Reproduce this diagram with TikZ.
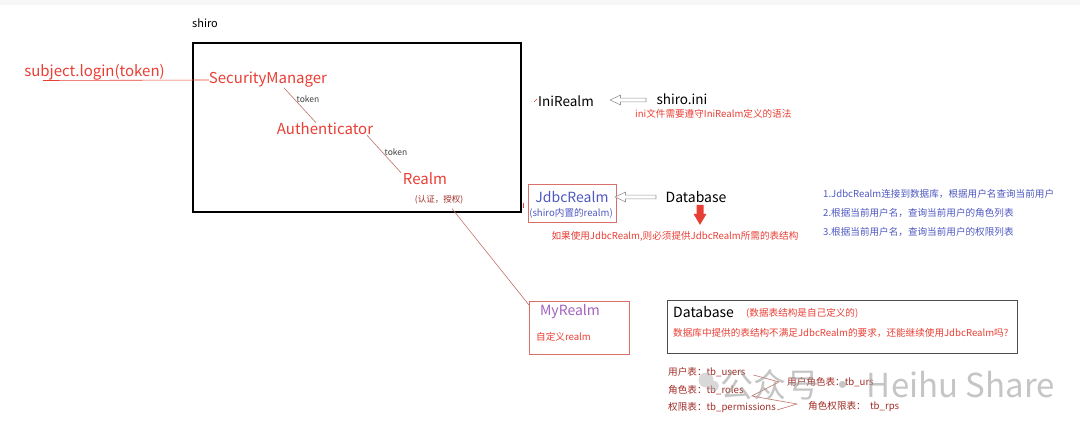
\documentclass[tikz,border=0pt]{standalone}
\usepackage{fontspec}
\setmainfont{Noto Sans CJK SC}
\definecolor{shred}{RGB}{232,62,52}
\definecolor{shdark}{RGB}{158,44,38}
\definecolor{shline}{RGB}{192,112,104}
\definecolor{shbox}{RGB}{214,112,104}
\definecolor{shblue}{RGB}{78,88,192}
\definecolor{shpurple}{RGB}{160,98,190}
\definecolor{shgray}{RGB}{150,150,150}
\usetikzlibrary{positioning,calc,shapes.arrows}

\begin{document}
\begin{tikzpicture}[x=1pt,y=-1pt,
  lbl/.style={inner sep=0pt,font=\fontsize{15}{17}\selectfont},
  note/.style={inner sep=0pt,font=\fontsize{9.6}{11}\selectfont},
  tiny/.style={inner sep=0pt,font=\fontsize{8.5}{10}\selectfont},
  link/.style={shline,line width=0.6pt},
  hollow/.style={single arrow,draw=shgray,fill=white,line width=0.6pt,
    shape border rotate=180,inner xsep=0pt,inner ysep=1.6pt,
    single arrow head extend=3pt,single arrow tip angle=50}]
  \useasboundingbox (0,0) rectangle (1080,428);
  \fill[gray!6] (0,0) rectangle (1080,5);

  % shiro core
  \node[anchor=west,inner sep=0pt,font=\fontsize{11}{13}\selectfont] (shiro) at (192,23) {shiro};
  \node[draw,line width=2.2pt,anchor=north west,minimum width=328pt,minimum height=169pt,inner sep=0pt] (shirobox) at (192,42) {};
  \node[lbl,shred] (login) at (94.5,72) {subject.login(token)};
  \node[lbl,shred] (secmgr) at (268,80) {SecurityManager};
  \node[lbl,shred] (auth) at (325,129) {Authenticator};
  \node[lbl,shred] (realm) at (425,179) {Realm};
  \node[tiny,shdark] (realmnote) at (439,200) {(认证，授权)};
  \node[tiny,black!75] (tok1) at (308,99) {token};
  \node[tiny,black!75] (tok2) at (396,152) {token};
  \coordinate (loginstart) at (43,80.5);
  \draw[shred,line width=0.6pt] (loginstart) -- (secmgr.west);
  \draw[link] ($(secmgr.south)+(16,0)$) -- ($(auth.north)+(-9,0)$);
  \draw[link] ($(auth.south)+(42,0)$) -- ($(realm.north)+(-24,0)$);

  % ini realm
  \node[lbl,font=\fontsize{13.5}{16}\selectfont] (ini) at (566,101) {IniRealm};
  \node[lbl,font=\fontsize{13.5}{16}\selectfont] (shiroini) at (682,99) {shiro.ini};
  \node[hollow,minimum height=36pt,minimum width=9pt] (iniarrow) at (630,100) {};
  \draw[shred,line width=0.6pt] ($(ini.west)+(-4,1)$) -- ($(ini.west)+(-1,-2)$);
  \node[note,shred,anchor=west] (ininote) at (635,114) {ini文件需要遵守IniRealm定义的语法};

  % jdbc realm
  \node[draw=shbox,line width=0.8pt,minimum width=88pt,minimum height=38pt,inner sep=0pt] (jdbcbox) at (572,203) {};
  \node[lbl,shblue,font=\fontsize{14}{16}\selectfont] (jdbc) at (572,197) {JdbcRealm};
  \node[note,shblue] (jdbcsub) at (571,213) {(shiro内置的realm)};
  \draw[shred,line width=0.6pt] ($(jdbcbox.west)+(-4,0)$) -- ($(jdbcbox.west)+(-4,5)$);
  \node[lbl,font=\fontsize{14}{16}\selectfont] (db) at (696,197) {Database};
  \node[hollow,minimum height=41pt,minimum width=9pt] (dbarrow) at (637.5,197) {};
  \coordinate (downtop) at ($(db.south)+(4,2)$);
  \fill[shred] ($(downtop)+(-3.5,0)$) -- ($(downtop)+(3.5,0)$) -- ($(downtop)+(3.5,9)$)
    -- ($(downtop)+(6.5,9)$) -- ($(downtop)+(0,20)$) -- ($(downtop)+(-6.5,9)$)
    -- ($(downtop)+(-3.5,9)$) -- cycle;
  \node[note,shred] (jdbcnote) at (675,236) {如果使用JdbcRealm,则必须提供JdbcRealm所需的表结构};
  \foreach \y/\txt in {194/{1.JdbcRealm连接到数据库，根据用户名查询当前用户},
    213/{2.根据当前用户名，查询当前用户的角色列表},
    232/{3.根据当前用户名，查询当前用户的权限列表}} {
    \node[note,shblue,anchor=west] at (823,\y) {\txt};
  }

  % custom realm
  \node[draw=shbox,line width=0.8pt,anchor=north west,minimum width=100pt,minimum height=53pt,inner sep=0pt] (mybox) at (529,301) {};
  \node[lbl,shpurple,font=\fontsize{14}{16}\selectfont] (myrealm) at (570,312) {MyRealm};
  \node[note,shred,anchor=west] (mynote) at (536,337) {自定义realm};
  \draw[link] ($(realmnote.south)+(13,4)$) -- ($(mybox.north west)+(0,4)$);

  % own database
  \node[draw=black!70,line width=1pt,anchor=north west,minimum width=350pt,minimum height=53pt,inner sep=0pt] (dbbox) at (667,300) {};
  \node[lbl,anchor=west,font=\fontsize{14}{16}\selectfont] (db2) at (673,312) {Database};
  \node[note,shred,anchor=west] (dbnote) at (746,313) {(数据表结构是自己定义的)};
  \node[note,shred,anchor=west] (dbq) at (673,333) {数据库中提供的表结构不满足JdbcRealm的要求，还能继续使用JdbcRealm吗?};

  % tables
  \node[note,shdark,anchor=west] (users) at (668,372) {用户表：tb\_users};
  \node[note,shdark,anchor=west] (roles) at (668,390) {角色表：tb\_roles};
  \node[note,shdark,anchor=west] (perms) at (668,408) {权限表：tb\_permissions};
  \node[note,shdark,anchor=west] (urs) at (787,382) {用户角色表：tb\_urs};
  \node[note,shdark,anchor=west] (rps) at (808,407) {角色权限表：\ \ tb\_rps};
  \draw[link] ($(users.east)+(8,3)$) -- ($(urs.west)+(-8,0)$) -- ($(roles.east)+(8,6)$)
    -- ($(rps.west)+(-11,-3)$) -- ($(perms.east)+(1,2)$);

  % watermark
  \fill[gray!60,opacity=0.5] (706,380) circle (7.5pt) (713.5,386) circle (5.5pt);
  \node[inner sep=0pt,anchor=west,text=gray!75,opacity=0.6,font=\fontsize{33}{36}\selectfont] (mark) at (720,385) {公众号 · Heihu Share};
\end{tikzpicture}
\end{document}
